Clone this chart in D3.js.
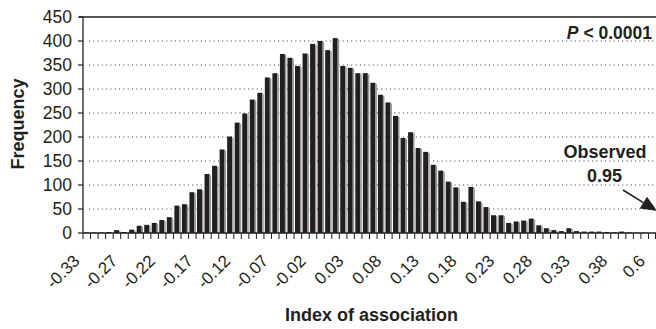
<!DOCTYPE html>
<html>
<head>
<meta charset="utf-8">
<script src="https://cdn.jsdelivr.net/npm/d3@7/dist/d3.min.js"></script>
<style>
  html, body { margin: 0; padding: 0; background: #fff; }
  svg { display: block; font-family: "Liberation Sans", Arial, Helvetica, sans-serif; }
</style>
</head>
<body>
<svg id="chart" width="656" height="329"></svg>
<script>
// ---- data ----
const frequencies = [
  1, 1, 1, 2, 6, 2, 7, 15, 17, 21,
  27, 33, 57, 60, 85, 91, 123, 140, 174, 201,
  230, 249, 278, 292, 324, 333, 373, 365, 348, 374,
  394, 400, 381, 406, 348, 344, 333, 333, 313, 288,
  272, 244, 198, 210, 177, 169, 142, 130, 107, 95,
  65, 96, 66, 54, 37, 37, 21, 24, 26, 30,
  16, 10, 6, 4, 10, 4, 3, 3, 3, 2,
  1.5, 3, 1, 0.5, 0.5, 0
];
const categories = frequencies.map((d, i) => i);
const tickLabels = ["-0.33", "-0.27", "-0.22", "-0.17", "-0.12", "-0.07", "-0.02", "0.03",
                    "0.08", "0.13", "0.18", "0.23", "0.28", "0.33", "0.38", "0.6"];
const tickEvery = 5;
const yTicks = [0, 50, 100, 150, 200, 250, 300, 350, 400, 450];

// ---- layout ----
const mLeft = 83, mRight = 656, mTop = 17, mBottom = 233;
const svg = d3.select("#chart");
const x = d3.scaleBand().domain(categories).range([mLeft, mRight]).padding(0);
const y = d3.scaleLinear().domain([0, 450]).range([mBottom, mTop]);
const bw = x.bandwidth();
const ink = "#231f20";

// gridlines (dotted)
svg.append("g").selectAll("line")
  .data(yTicks.filter(v => v > 0 && v < 450))
  .join("line")
  .attr("x1", mLeft + 6).attr("x2", mRight)
  .attr("y1", d => y(d)).attr("y2", d => y(d))
  .attr("stroke", "#333").attr("stroke-width", 1)
  .attr("stroke-dasharray", "1,3.3");

// top frame line
svg.append("line")
  .attr("x1", mLeft - 4).attr("x2", mRight)
  .attr("y1", y(450)).attr("y2", y(450))
  .attr("stroke", ink).attr("stroke-width", 1.3);

// bars
const bars = svg.append("g");
bars.selectAll("rect.dark")
  .data(categories)
  .join("rect").attr("class", "dark")
  .attr("x", d => x(d) + 0.9)
  .attr("y", d => y(frequencies[d]))
  .attr("width", bw * 0.66)
  .attr("height", d => mBottom - y(frequencies[d]))
  .attr("fill", ink);
bars.selectAll("rect.side")
  .data(categories)
  .join("rect").attr("class", "side")
  .attr("x", d => x(d) + 0.9 + bw * 0.66)
  .attr("y", d => Math.min(mBottom, y(frequencies[d]) + 1))
  .attr("width", bw * 0.2)
  .attr("height", d => Math.max(0, mBottom - y(frequencies[d]) - 1))
  .attr("fill", "#999");

// y axis line
svg.append("line")
  .attr("x1", mLeft).attr("x2", mLeft)
  .attr("y1", mTop).attr("y2", mBottom)
  .attr("stroke", ink).attr("stroke-width", 1.3);

// y ticks + labels
const yg = svg.append("g");
yg.selectAll("line").data(yTicks).join("line")
  .attr("x1", mLeft - 5).attr("x2", mLeft)
  .attr("y1", d => y(d)).attr("y2", d => y(d))
  .attr("stroke", ink).attr("stroke-width", 1.2);
yg.selectAll("text").data(yTicks).join("text")
  .attr("x", 72).attr("y", d => y(d))
  .attr("dy", "0.36em")
  .attr("text-anchor", "end")
  .attr("font-size", 17.5)
  .attr("fill", ink)
  .text(d => d);

// x axis line
svg.append("line")
  .attr("x1", mLeft).attr("x2", mRight)
  .attr("y1", mBottom).attr("y2", mBottom)
  .attr("stroke", ink).attr("stroke-width", 1.3);

// x ticks at category boundaries
const bounds = categories.map(d => x(d)).concat([mRight - 0.5]);
svg.append("g").selectAll("line").data(bounds).join("line")
  .attr("x1", d => d).attr("x2", d => d)
  .attr("y1", mBottom).attr("y2", mBottom + 6)
  .attr("stroke", ink).attr("stroke-width", 1);

// x tick labels (every 5th category)
svg.append("g").selectAll("text")
  .data(tickLabels)
  .join("text")
  .attr("transform", (d, i) => {
    const c = categories[i * tickEvery];
    const cx = x(c) + bw / 2;
    return `translate(${cx - 6},${262}) rotate(-45)`;
  })
  .attr("text-anchor", "end")
  .attr("font-size", 17)
  .attr("fill", ink)
  .text(d => d);

// axis titles
svg.append("text")
  .attr("transform", `translate(24,124) rotate(-90)`)
  .attr("text-anchor", "middle")
  .attr("font-size", 18).attr("font-weight", "bold")
  .attr("fill", ink)
  .text("Frequency");

svg.append("text")
  .attr("x", 371.5).attr("y", 321)
  .attr("text-anchor", "middle")
  .attr("font-size", 18).attr("font-weight", "bold")
  .attr("fill", ink)
  .text("Index of association");

// P-value annotation
const pt = svg.append("text")
  .attr("x", 652).attr("y", 39)
  .attr("text-anchor", "end")
  .attr("font-size", 17.5).attr("font-weight", "bold")
  .attr("fill", ink);
pt.append("tspan").attr("font-style", "italic").text("P");
pt.append("tspan").text(" < 0.0001");

// Observed annotation
svg.append("text")
  .attr("x", 605).attr("y", 158)
  .attr("text-anchor", "middle")
  .attr("font-size", 18).attr("font-weight", "bold")
  .attr("fill", ink)
  .text("Observed");
svg.append("text")
  .attr("x", 604.5).attr("y", 182)
  .attr("text-anchor", "middle")
  .attr("font-size", 18).attr("font-weight", "bold")
  .attr("fill", ink)
  .text("0.95");

// arrow
const a0 = [623, 190], tip = [657, 211];
const ddx = tip[0] - a0[0], ddy = tip[1] - a0[1];
const len = Math.hypot(ddx, ddy);
const ux = ddx / len, uy = ddy / len;
const headLen = 16, headHalf = 7;
const bx = tip[0] - ux * headLen, by = tip[1] - uy * headLen;
svg.append("line")
  .attr("x1", a0[0]).attr("y1", a0[1])
  .attr("x2", bx).attr("y2", by)
  .attr("stroke", ink).attr("stroke-width", 1.6);
svg.append("polygon")
  .attr("points", [
    [tip[0], tip[1]],
    [bx - uy * headHalf, by + ux * headHalf],
    [bx + uy * headHalf, by - ux * headHalf]
  ].map(p => p.join(",")).join(" "))
  .attr("fill", ink);
</script>
</body>
</html>
